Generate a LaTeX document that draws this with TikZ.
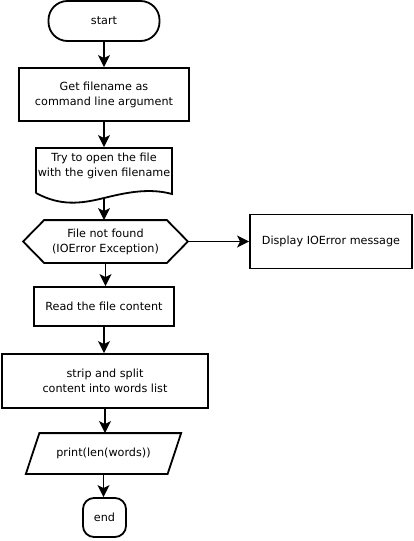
\documentclass[tikz,border=0pt]{standalone}
\usepackage{fontspec}
\setmainfont{DejaVu Sans}
\usetikzlibrary{arrows.meta,calc}
\begin{document}
\begin{tikzpicture}[x=1pt,y=-1pt,
  base/.style={inner sep=0pt, align=center, font=\fontsize{11.2}{15}\selectfont, line width=1.8pt},
  outline/.style={line width=1.8pt, line join=miter},
  arr/.style={-{Stealth[length=12pt,width=12pt,inset=3pt]}, line width=1.9pt}]
\useasboundingbox (0,0) rectangle (414,541);
\fill[white] (0,0) rectangle (414,541);
% nodes
\node[base,draw,rounded corners=19pt,minimum width=111pt,minimum height=40pt] (start) at (104,21) {start};
\node[base,draw,minimum width=170pt,minimum height=53pt] (get) at (104,94.5) {Get filename as\\command line argument};
\node[base,minimum width=136pt,minimum height=36pt] (doc) at (104,166) {Try to open the file\\with the given filename};
\draw[outline] (36,193) -- (36,148) -- (172,148) -- (172,194)
  .. controls (150,188) and (128,192) .. (104,198)
  .. controls (80,204) and (60,206) .. (36,193);
\coordinate (docb) at (104,198);
\node[base,minimum width=163pt,minimum height=41pt] (hex) at (105.5,241.5) {File not found\\(IOError Exception)};
\draw[outline] (hex.west) -- ($(hex.north west)+(21,0)$) -- ($(hex.north east)+(-21,0)$) -- (hex.east)
  -- ($(hex.south east)+(-21,0)$) -- ($(hex.south west)+(21,0)$) -- cycle;
\node[base,draw,minimum width=162pt,minimum height=54pt] (disp) at (331,241.5) {Display IOError message};
\node[base,draw,minimum width=140pt,minimum height=39pt] (read) at (104,306.5) {Read the file content};
\node[base,draw,minimum width=206pt,minimum height=54pt] (strip) at (105,381) {strip and split\\content into words list};
\node[base,minimum width=140pt,minimum height=39pt] (pr) at (103.5,453.5) {print(len(words))};
\draw[outline] ($(pr.north west)+(6.75,0)$) -- ($(pr.north east)+(6.75,0)$) -- ($(pr.south east)+(-6.75,0)$) -- ($(pr.south west)+(-6.75,0)$) -- cycle;
\node[base,draw,rounded corners=11pt,minimum width=43pt,minimum height=39pt] (end) at (104.5,517.5) {end};
% connectors
\draw[arr] (start.south) -- (get.north);
\draw[arr] (get.south) -- (doc.north);
\draw[arr] (docb) -- (docb |- hex.north);
\draw[arr] (hex.east) -- (disp.west);
\draw[arr] (hex.south) -- (hex.south |- read.north);
\draw[arr] (read.south) -- (read.south |- strip.north);
\draw[arr] (strip.south) -- (strip.south |- pr.north);
\draw[arr] (pr.north |- pr.south) -- (pr.north |- end.north);
\end{tikzpicture}
\end{document}
